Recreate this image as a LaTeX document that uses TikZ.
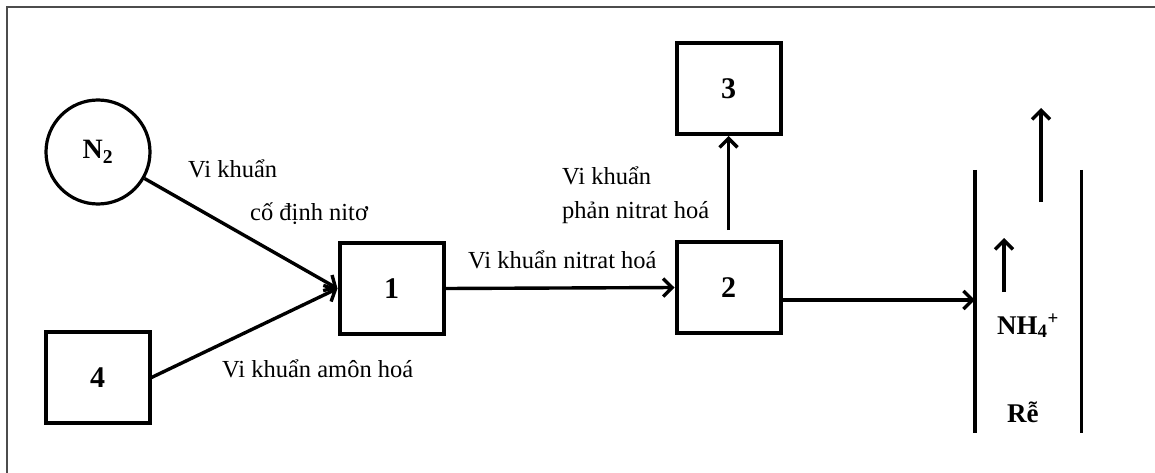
\documentclass[tikz,border=0pt]{standalone}
\usepackage{fontspec}
\setmainfont{Liberation Serif}
\usetikzlibrary{arrows.meta}
\begin{document}
\begin{tikzpicture}[x=1pt,y=-1pt,
  box/.style={draw, line width=4pt, minimum width=104pt, minimum height=91pt, inner sep=0pt, font=\fontsize{30}{32}\selectfont\bfseries},
  ring/.style={circle, draw, line width=3.2pt, minimum size=104pt, inner sep=0pt, font=\fontsize{28}{30}\selectfont\bfseries},
  conn/.style={line width=3.4pt, -{Straight Barb[length=9pt,width=18pt,line width=3.4pt]}},
  wall/.style={line width=3.4pt},
  lbl/.style={font=\fontsize{24.5}{28}\selectfont, inner sep=0pt, anchor=base west},
  chem/.style={font=\fontsize{27}{30}\selectfont\bfseries, inner sep=0pt, anchor=base west},
]
\useasboundingbox (0,0) rectangle (1155,473);
\draw[black!70, line width=1.5pt] (7,473) -- (7,7) -- (1155,7);

\node[ring] (n2) at (98,152) {N\textsubscript{2}};
\node[box] (b4) at (97.5,377.5) {4};
\node[box] (b1) at (391.5,288.5) {1};
\node[box] (b2) at (728.5,287.5) {2};
\node[box] (b3) at (728.5,88.5) {3};
\node[minimum width=106pt, minimum height=263pt, inner sep=0pt] (root) at (1028,301.5) {};

\draw[wall] (root.north west) -- (root.south west);
\draw[wall] (root.north east) -- (root.south east);

\draw[conn] (n2) -- (b1.west);
\draw[conn] (b4.east) -- (b1.west);
\draw[conn] (b1.east) -- (b2.west);
\coordinate (s23) at ([yshift=10pt]b2.north);
\draw[conn] (s23) -- (b3.south);
\coordinate (s2r) at ([yshift=-12.5pt]b2.east);
\draw[conn] (s2r) -- (s2r -| root.west);

\coordinate (ua1) at (1004,292);
\coordinate (ua2) at (1004,238);
\draw[conn] (ua1) -- (ua2);
\coordinate (ub1) at (1041,202);
\coordinate (ub2) at (1041,108);
\draw[conn] (ub1) -- (ub2);

\node[lbl] (t1) at (188,177) {Vi khuẩn};
\node[lbl] (t2) at (250,220) {cố định nitơ};
\node[lbl] (t3) at (222,377) {Vi khuẩn amôn hoá};
\node[lbl] (t4) at (468,268) {Vi khuẩn nitrat hoá};
\node[lbl] (t5) at (562,185) {Vi khuẩn};
\node[lbl] (t6) at (562,218) {phản nitrat hoá};

\node[chem] (nh4) at (997,334) {NH\textsubscript{4}\textsuperscript{+}};
\node[chem] (re) at (1007,422) {Rễ};
\end{tikzpicture}
\end{document}
